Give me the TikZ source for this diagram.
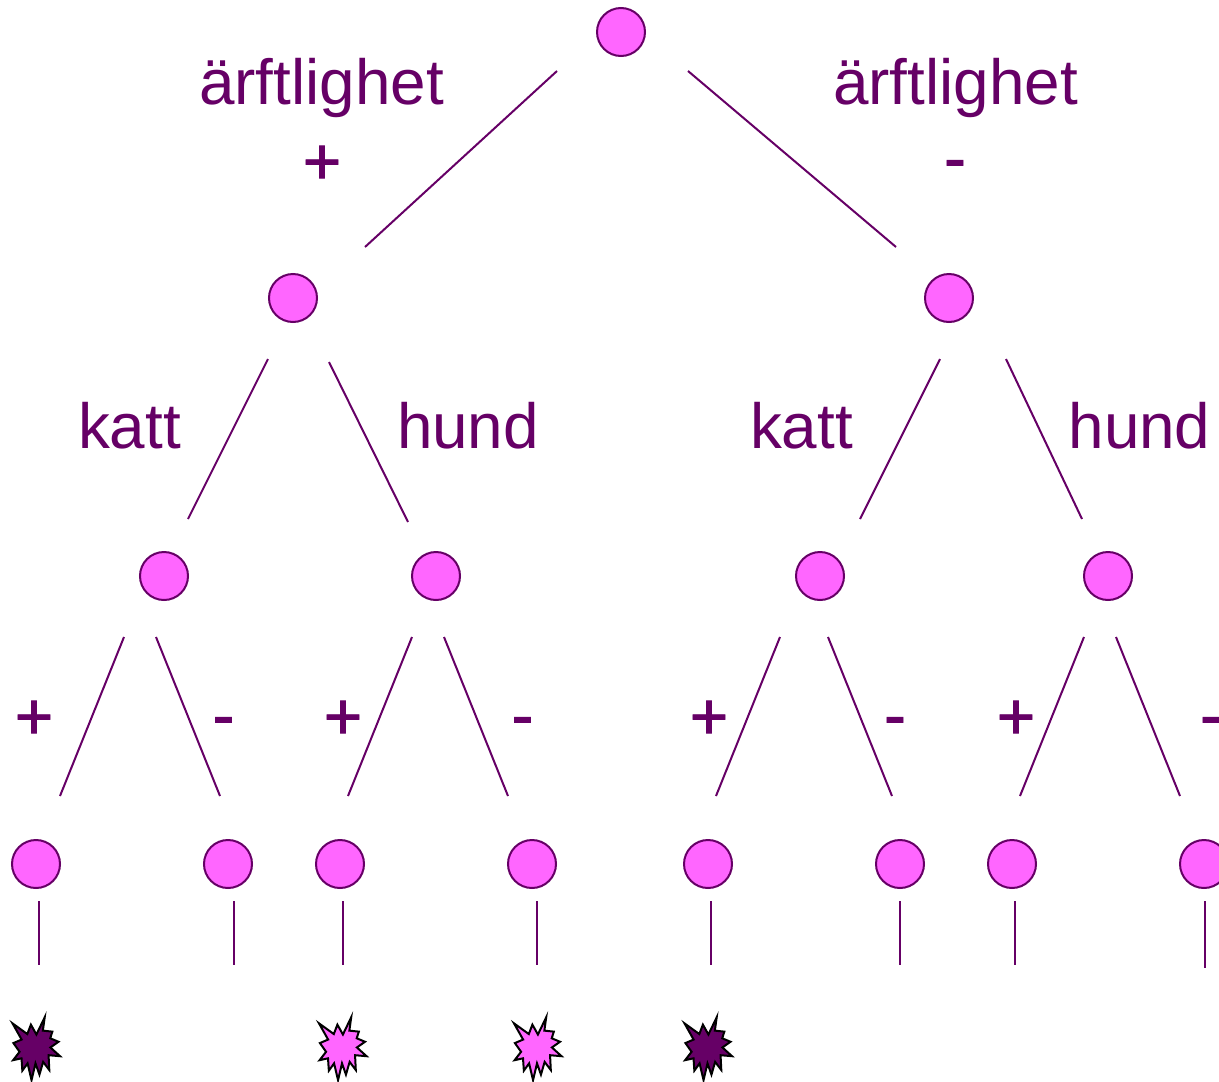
\documentclass[tikz,border=0pt]{standalone}
\usepackage{fontspec}
\setmainfont{Liberation Sans}
\newfontfamily\signfont[FakeBold=1.3]{Liberation Sans}
\definecolor{plum}{HTML}{660066}
\definecolor{pink}{HTML}{FF66FF}
\tikzset{
  x=1pt,y=-1pt,
  dot/.style={circle,draw=plum,fill=pink,line width=2pt,minimum size=48pt,inner sep=0pt,outer sep=0pt},
  edge/.style={draw=plum,line width=2pt},
  word/.style={text=plum,font=\fontsize{63.8}{64}\selectfont,anchor=base,inner sep=0pt},
  sign/.style={text=plum,font=\signfont\fontsize{66}{66}\selectfont,anchor=base,inner sep=0pt},
  burst/.pic={
    \path[pic actions,draw=black,line width=2pt,line join=miter,miter limit=10,scale=.92]
      (10,-32.3)--(8,-17.8)--(18.3,-16.7)--(16,-9.5)--(25,-5.7)--(16.2,.5)--(26.7,10)--(14.2,8.9)--(15,25)--(8.3,16.2)--(4.3,30)--(0,17.8)--(-4.3,36)--(-8.6,17.8)--(-14.3,25.7)--(-15.2,12.3)--(-24.3,14.3)--(-17.3,5.2)--(-24,-4.3)--(-15.1,-8.1)--(-25,-25.7)--(-8.9,-14.1)--(-5,-24.3)--(1,-13.6)--cycle;
  }
}
\begin{document}
\begin{tikzpicture}
\useasboundingbox (0,0) rectangle (1219,1082);
\clip (0,0) rectangle (1219,1082);
% nodes
\node[dot] (n0) at (621,32) {};
\node[dot] (n1) at (293,298) {};
\node[dot] (n2) at (949,298) {};
\node[dot] (n3) at (164,576) {};
\node[dot] (n4) at (436,576) {};
\node[dot] (n5) at (820,576) {};
\node[dot] (n6) at (1108,576) {};
\node[dot] (l1) at (36,864) {};
\node[dot] (l2) at (228,864) {};
\node[dot] (l3) at (340,864) {};
\node[dot] (l4) at (532,864) {};
\node[dot] (l5) at (708,864) {};
\node[dot] (l6) at (900,864) {};
\node[dot] (l7) at (1012,864) {};
\node[dot] (l8) at (1204,864) {};
% connector ends
\coordinate (a1) at (557,71);  \coordinate (b1) at (365,247);
\coordinate (a2) at (688,71);  \coordinate (b2) at (896,247);
\coordinate (a3) at (268,359); \coordinate (b3) at (188,519);
\coordinate (a4) at (329,362); \coordinate (b4) at (408,522);
\coordinate (a5) at (940,359); \coordinate (b5) at (860,519);
\coordinate (a6) at (1006,359);\coordinate (b6) at (1082,519);
\coordinate (a7) at (124,637); \coordinate (b7) at (60,796);
\coordinate (a8) at (156,637); \coordinate (b8) at (220,796);
\coordinate (a9) at (412,637); \coordinate (b9) at (348,796);
\coordinate (a10) at (444,637);\coordinate (b10) at (508,796);
\coordinate (a11) at (780,637);\coordinate (b11) at (716,796);
\coordinate (a12) at (828,637);\coordinate (b12) at (892,796);
\coordinate (a13) at (1084,637);\coordinate (b13) at (1020,796);
\coordinate (a14) at (1116,637);\coordinate (b14) at (1180,796);
\coordinate (c1) at (39,901);  \coordinate (d1) at (39,965);
\coordinate (c2) at (234,901); \coordinate (d2) at (234,965);
\coordinate (c3) at (343,901); \coordinate (d3) at (343,965);
\coordinate (c4) at (537,901); \coordinate (d4) at (537,965);
\coordinate (c5) at (711,901); \coordinate (d5) at (711,965);
\coordinate (c6) at (900,901); \coordinate (d6) at (900,965);
\coordinate (c7) at (1015,901);\coordinate (d7) at (1015,965);
\coordinate (c8) at (1205,901);\coordinate (d8) at (1205,968);
\foreach \i in {1,...,14} \draw[edge] (a\i) -- (b\i);
\foreach \i in {1,...,8} \draw[edge] (c\i) -- (d\i);
% labels
\node[word] (t1) at (321.5,104) {ärftlighet};
\node[sign] (s1) at (322,184) {+};
\node[word] (t2) at (955.5,104) {ärftlighet};
\node[sign] (s2) at (955,180.5) {-};
\node[word] (t3) at (129.5,448) {katt};
\node[word] (t4) at (468,448) {hund};
\node[word] (t5) at (801.5,448) {katt};
\node[word] (t6) at (1139.5,448) {hund};
\node[sign] (s3) at (34,739) {+};
\node[sign] (s4) at (223.5,737.5) {-};
\node[sign] (s5) at (343,739) {+};
\node[sign] (s6) at (522.5,737.5) {-};
\node[sign] (s7) at (709,739) {+};
\node[sign] (s8) at (895,737.5) {-};
\node[sign] (s9) at (1016,739) {+};
\node[sign] (s10) at (1211,737.5) {-};
% bursts
\pic[fill=plum] at (35.5,1047) {burst};
\pic[fill=pink] at (342,1047) {burst};
\pic[fill=pink] at (537,1047) {burst};
\pic[fill=plum] at (707.5,1047) {burst};
\end{tikzpicture}
\end{document}
